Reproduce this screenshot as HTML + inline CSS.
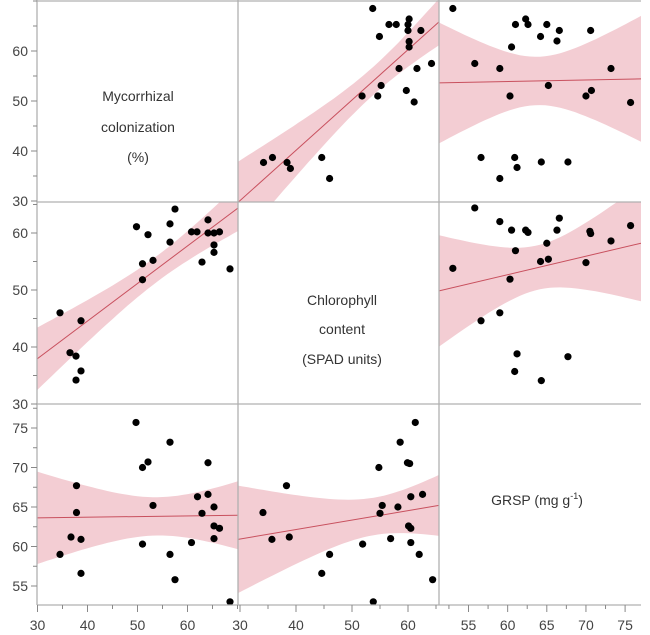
<!DOCTYPE html>
<html><head><meta charset="utf-8"><style>
body{margin:0;background:#fff;}
svg{display:block;font-family:"Liberation Sans",sans-serif;}
</style></head><body>
<svg id="c" width="650" height="635"></svg>
<script>
// Data pairs
const mycChlMyc=[34.5,38.7,36.5,37.7,38.7,37.7,49.8,52.1,51,51,53.1,56.5,56.5,57.5,60.8,61.9,64.1,64.1,65.3,66.4,65.3,65.3,62.9,68.5];
const mycChlChl=[46.0,44.6,39.0,38.4,35.8,34.2,61.1,59.7,54.6,51.8,55.2,61.6,58.4,64.2,60.2,60.2,62.3,60.0,60.0,60.2,57.9,56.6,54.9,53.7];
const mycGrspMyc=[49.7,56.5,51,52.1,64.1,37.8,62,64.1,53.1,65.3,37.8,62.9,65.3,66.4,36.7,38.7,65.3,60.8,51,34.5,56.5,38.7,57.5,68.5];
const mycGrspGrsp=[75.7,73.2,70.0,70.7,70.6,67.7,66.3,66.6,65.2,65.0,64.3,64.2,62.6,62.3,61.2,60.9,61.0,60.5,60.3,59.0,59.0,56.6,55.8,53.0];
const chlGrspChl=[61.3,58.6,54.8,59.9,60.3,38.3,34.1,60.5,62.6,55.4,58.2,55,60.1,60.5,35.7,38.8,56.9,60.5,51.9,46,62,44.6,64.4,53.8];
const chlGrspGrsp=[75.7,73.2,70.0,70.6,70.5,67.7,64.3,66.3,66.6,65.2,65.0,64.2,62.6,62.3,60.9,61.2,61.0,60.5,60.3,59.0,59.0,56.6,55.8,53.0];
const mycTicks=[30,40,50,60];
const chlTicks=[30,40,50,60];
const grspTicks=[55,60,65,70,75];

const NS="http://www.w3.org/2000/svg";
const svg=document.getElementById('c');
function el(t,a,p){const e=document.createElementNS(NS,t);for(const k in a)e.setAttribute(k,a[k]);(p||svg).appendChild(e);return e;}
// scales
const colX=[v=>37.5+(v-30)*5, v=>240+(v-30)*5.6, v=>468.5+(v-55)*7.83];
const rowY=[v=>201-(v-30)*5, v=>404-(v-30)*5.7, v=>586-(v-55)*7.9];
const colB=[[37,238],[238,439],[439,641]];
const rowB=[[0,202],[202,404],[404,605]];
const inv=(f,p)=>{const a=f(0),b=f(1);return (p-a)/(b-a);};

function panel(ci,ri,xs,ys,name){
  const g=el('g',{});
  
  
  const id='cp'+ci+ri;
  const cp=el('clipPath',{id:id},g);el('rect',{x:colB[ci][0],y:rowB[ri][0],width:colB[ci][1]-colB[ci][0],height:rowB[ri][1]-rowB[ri][0]},cp);
  const gg=el('g',{'clip-path':'url(#'+id+')'},g);
  const n=xs.length;let mx=0,my=0;xs.forEach((v,i)=>{mx+=v;my+=ys[i];});mx/=n;my/=n;
  let sxx=0,sxy=0;xs.forEach((v,i)=>{sxx+=(v-mx)**2;sxy+=(v-mx)*(ys[i]-my);});
  const b=sxy/sxx,a=my-b*mx;let sse=0;xs.forEach((v,i)=>{sse+=(ys[i]-a-b*v)**2;});
  const s=Math.sqrt(sse/(n-2)),t=2.07;
  const X=colX[ci],Y=rowY[ri];
  const x0=inv(X,colB[ci][0]),x1=inv(X,colB[ci][1]);
  let up=[],lo=[];
  for(let k=0;k<=40;k++){const xv=x0+(x1-x0)*k/40;const yh=a+b*xv;const h=t*s*Math.sqrt(1/n+(xv-mx)**2/sxx);
    up.push(X(xv).toFixed(1)+','+Y(yh+h).toFixed(1));lo.unshift(X(xv).toFixed(1)+','+Y(yh-h).toFixed(1));}
  const band=el('polygon',{points:up.concat(lo).join(' '),fill:'#f3cdd3'},gg);
  
  
  const ln=el('line',{x1:X(x0),y1:Y(a+b*x0),x2:X(x1),y2:Y(a+b*x1),stroke:'#c8505e','stroke-width':1},gg);
  
  
  xs.forEach((v,i)=>{const c=el('circle',{cx:X(v),cy:Y(ys[i]),r:3.6,fill:'#000'},gg);
    
    });
}
panel(1,0,mycChlChl,mycChlMyc,'panel-chl-vs-myc');
panel(2,0,mycGrspGrsp,mycGrspMyc,'panel-grsp-vs-myc');
panel(0,1,mycChlMyc,mycChlChl,'panel-myc-vs-chl');
panel(2,1,chlGrspGrsp,chlGrspChl,'panel-grsp-vs-chl');
panel(0,2,mycGrspMyc,mycGrspGrsp,'panel-myc-vs-grsp');
panel(1,2,chlGrspChl,chlGrspGrsp,'panel-chl-vs-grsp');

// grid lines
[[37,0,37,605],[238,0,238,605],[439,0,439,605],[37,1,641,1],[37,202,641,202],[37,404,641,404],[37,605,641,605]].forEach(l=>{
  const e=el('line',{x1:l[0],y1:l[1],x2:l[2],y2:l[3],stroke:'#b0b0b0','stroke-width':1.3});
  
  });

// y axis ticks
const yTicks=[mycTicks,chlTicks,grspTicks];
const yStep=[5,5,2.5];
yTicks.forEach((tk,ri)=>{
  const Y=rowY[ri];
  const lo=inv(Y,rowB[ri][1]),hi=inv(Y,rowB[ri][0]);
  for(let v=Math.ceil(lo/yStep[ri])*yStep[ri];v<=hi;v+=yStep[ri]){
    const major=tk.includes(v);
    el('line',{x1:major?31:33,x2:37,y1:Y(v),y2:Y(v),stroke:'#888','stroke-width':1});
  }
  tk.forEach(v=>{const t=el('text',{x:28,y:Y(v)+5,'text-anchor':'end','font-size':14,fill:'#444'});t.textContent=v;
    
    });
});
// x axis ticks
const xTicks=[mycTicks,chlTicks,grspTicks];
xTicks.forEach((tk,ci)=>{
  const X=colX[ci];
  const lo=inv(X,colB[ci][0]),hi=inv(X,colB[ci][1]);
  const st=ci==2?2.5:5;
  for(let v=Math.ceil(lo/st)*st;v<=hi;v+=st){
    const major=tk.includes(v);
    el('line',{x1:X(v),x2:X(v),y1:605,y2:major?612:609,stroke:'#888','stroke-width':1});
  }
  tk.forEach(v=>{const t=el('text',{x:X(v),y:630,'text-anchor':'middle','font-size':14,fill:'#444'});t.textContent=v;
    
    });
});

// diagonal labels
function lab(lines,x,ys,name){lines.forEach((s,i)=>{const t=el('text',{x:x,y:ys[i],'text-anchor':'middle','font-size':14,fill:'#333'});t.textContent=s;
  
  });}
lab(['Mycorrhizal','colonization','(%)'],138,[101,132,162],'mycorrhizal-label');
lab(['Chlorophyll','content','(SPAD units)'],342,[305,334,364],'chlorophyll-label');
const g=el('text',{x:537,y:505,'text-anchor':'middle','font-size':14,fill:'#333'});
g.innerHTML='GRSP (mg g<tspan dy="-6" font-size="9">-1</tspan><tspan dy="6">)</tspan>';


</script>
</body></html>
